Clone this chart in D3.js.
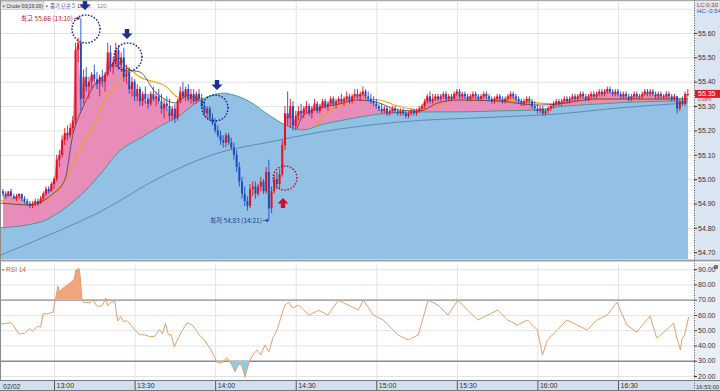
<!DOCTYPE html>
<html><head><meta charset="utf-8">
<script src="https://cdn.jsdelivr.net/npm/d3@7"></script>
<style>body{margin:0;background:#fff}svg{display:block;font-family:"Liberation Sans",Arial,sans-serif}</style>
</head><body><svg id="c" width="720" height="391"></svg>
<script>
// ---- DATA ----
const startLabel = "12:40";           // minute 0 of the x domain
// 1-minute candles [open, high, low, close], first candle at minute 1
const candles = [
[54.95,54.96,54.93,54.94],[54.94,54.95,54.92,54.93],[54.93,54.95,54.93,54.95],[54.95,54.96,54.93,54.93],[54.93,54.94,54.92,54.92],
[54.92,54.94,54.91,54.93],[54.93,54.94,54.92,54.94],[54.94,54.94,54.91,54.92],[54.92,54.93,54.90,54.91],[54.91,54.92,54.89,54.90],
[54.90,54.91,54.88,54.89],[54.89,54.91,54.88,54.90],[54.90,54.92,54.89,54.91],[54.91,54.92,54.89,54.90],[54.90,54.93,54.90,54.92],
[54.92,54.95,54.91,54.94],[54.94,54.97,54.93,54.96],[54.96,54.97,54.94,54.95],[54.95,54.99,54.95,54.98],[54.98,55.01,54.96,55.00],
[55.00,55.10,54.99,55.08],[55.08,55.12,55.05,55.10],[55.10,55.18,55.09,55.16],[55.16,55.21,55.14,55.19],[55.19,55.22,55.16,55.18],
[55.18,55.23,55.17,55.21],[55.21,55.26,55.19,55.24],[55.24,55.56,55.22,55.53],[55.53,55.58,55.48,55.56],[55.56,55.66,55.28,55.33],
[55.33,55.45,55.31,55.42],[55.42,55.46,55.36,55.38],[55.38,55.42,55.33,55.40],[55.40,55.44,55.37,55.43],[55.43,55.47,55.40,55.41],
[55.41,55.44,55.37,55.39],[55.39,55.43,55.34,55.42],[55.42,55.45,55.38,55.40],[55.40,55.44,55.36,55.43],[55.43,55.56,55.42,55.52],
[55.52,55.55,55.44,55.46],[55.46,55.50,55.43,55.48],[55.48,55.56,55.46,55.53],[55.53,55.55,55.45,55.47],[55.47,55.52,55.44,55.50],
[55.50,55.54,55.40,55.42],[55.42,55.47,55.39,55.44],[55.44,55.46,55.35,55.37],[55.37,55.42,55.34,55.40],[55.40,55.41,55.32,55.34],
[55.34,55.39,55.32,55.37],[55.37,55.38,55.30,55.32],[55.32,55.36,55.30,55.35],[55.35,55.38,55.31,55.33],[55.33,55.35,55.29,55.31],
[55.31,55.36,55.30,55.35],[55.35,55.38,55.32,55.33],[55.33,55.36,55.30,55.34],[55.34,55.37,55.31,55.32],[55.32,55.35,55.27,55.29],
[55.29,55.33,55.25,55.31],[55.31,55.34,55.28,55.30],[55.30,55.33,55.24,55.26],[55.26,55.30,55.24,55.29],[55.29,55.31,55.23,55.25],
[55.25,55.33,55.24,55.32],[55.32,55.38,55.31,55.36],[55.36,55.40,55.33,55.34],[55.34,55.38,55.32,55.37],[55.37,55.39,55.32,55.33],
[55.33,55.37,55.31,55.35],[55.35,55.37,55.31,55.32],[55.32,55.36,55.31,55.35],[55.35,55.37,55.32,55.33],[55.33,55.35,55.29,55.30],
[55.30,55.32,55.26,55.27],[55.27,55.30,55.25,55.29],[55.29,55.30,55.24,55.25],[55.25,55.27,55.22,55.23],[55.23,55.25,55.19,55.20],
[55.20,55.22,55.17,55.18],[55.18,55.20,55.14,55.16],[55.16,55.18,55.13,55.15],[55.15,55.19,55.13,55.18],[55.18,55.19,55.14,55.15],
[55.15,55.17,55.12,55.13],[55.13,55.15,55.08,55.10],[55.10,55.12,55.03,55.05],[55.05,55.07,54.97,54.99],[54.99,55.01,54.92,54.94],
[54.94,54.97,54.89,54.91],[54.91,54.93,54.87,54.89],[54.89,54.98,54.88,54.96],[54.96,54.99,54.93,54.97],[54.97,54.99,54.92,54.94],
[54.94,54.98,54.93,54.97],[54.97,55.01,54.95,54.99],[54.99,55.00,54.94,54.95],[54.95,55.05,54.94,55.03],[55.03,55.08,54.83,54.88],
[54.88,54.97,54.86,54.95],[54.95,55.02,54.94,55.00],[55.00,55.03,54.96,54.98],[54.98,55.04,54.96,55.02],[55.02,55.16,55.01,55.14],
[55.14,55.30,55.12,55.27],[55.27,55.36,55.22,55.25],[55.25,55.33,55.21,55.30],[55.30,55.32,55.20,55.22],[55.22,55.28,55.20,55.26],
[55.26,55.30,55.24,55.28],[55.28,55.31,55.25,55.27],[55.27,55.30,55.25,55.29],[55.29,55.32,55.27,55.30],[55.30,55.31,55.26,55.27],
[55.27,55.30,55.25,55.29],[55.29,55.33,55.28,55.31],[55.31,55.32,55.27,55.28],[55.28,55.31,55.27,55.30],[55.30,55.33,55.29,55.32],
[55.32,55.33,55.29,55.30],[55.30,55.32,55.28,55.31],[55.31,55.34,55.30,55.33],[55.33,55.34,55.30,55.31],[55.31,55.33,55.29,55.32],
[55.32,55.34,55.31,55.33],[55.33,55.35,55.31,55.32],[55.32,55.34,55.30,55.33],[55.33,55.36,55.32,55.34],[55.34,55.35,55.31,55.32],
[55.32,55.35,55.31,55.34],[55.34,55.37,55.33,55.35],[55.35,55.37,55.33,55.34],[55.34,55.36,55.32,55.35],[55.35,55.38,55.34,55.36],
[55.36,55.37,55.33,55.34],[55.34,55.36,55.32,55.33],[55.33,55.35,55.31,55.32],[55.32,55.34,55.30,55.31],[55.31,55.33,55.29,55.30],
[55.30,55.31,55.28,55.29],[55.29,55.31,55.27,55.28],[55.28,55.30,55.27,55.29],[55.29,55.30,55.26,55.27],[55.27,55.29,55.26,55.28],
[55.28,55.30,55.27,55.29],[55.29,55.30,55.27,55.28],[55.28,55.29,55.26,55.27],[55.27,55.29,55.26,55.28],[55.28,55.29,55.26,55.27],
[55.27,55.28,55.25,55.26],[55.26,55.28,55.25,55.27],[55.27,55.29,55.26,55.28],[55.28,55.29,55.26,55.27],[55.27,55.29,55.26,55.28],
[55.28,55.30,55.27,55.29],[55.29,55.31,55.28,55.30],[55.30,55.33,55.29,55.32],[55.32,55.35,55.31,55.34],[55.34,55.36,55.31,55.32],
[55.32,55.35,55.31,55.33],[55.33,55.35,55.32,55.34],[55.34,55.35,55.32,55.33],[55.33,55.35,55.32,55.34],[55.34,55.36,55.33,55.35],
[55.35,55.36,55.32,55.33],[55.33,55.35,55.32,55.34],[55.34,55.35,55.32,55.33],[55.33,55.36,55.33,55.35],[55.35,55.37,55.34,55.36],
[55.36,55.37,55.33,55.34],[55.34,55.36,55.33,55.35],[55.35,55.36,55.33,55.34],[55.34,55.35,55.32,55.33],[55.33,55.35,55.32,55.34],
[55.34,55.36,55.33,55.35],[55.35,55.36,55.33,55.34],[55.34,55.35,55.32,55.33],[55.33,55.35,55.32,55.34],[55.34,55.36,55.33,55.35],
[55.35,55.36,55.33,55.34],[55.34,55.35,55.32,55.33],[55.33,55.34,55.31,55.32],[55.32,55.34,55.31,55.33],[55.33,55.35,55.32,55.34],
[55.34,55.35,55.32,55.33],[55.33,55.34,55.31,55.32],[55.32,55.34,55.31,55.33],[55.33,55.35,55.32,55.34],[55.34,55.36,55.33,55.35],
[55.35,55.36,55.33,55.34],[55.34,55.35,55.32,55.33],[55.33,55.34,55.31,55.32],[55.32,55.33,55.30,55.31],[55.31,55.33,55.30,55.32],
[55.32,55.34,55.31,55.33],[55.33,55.34,55.31,55.32],[55.32,55.33,55.29,55.30],[55.30,55.32,55.28,55.29],[55.29,55.31,55.27,55.28],
[55.28,55.30,55.27,55.29],[55.29,55.30,55.26,55.27],[55.27,55.29,55.26,55.28],[55.28,55.30,55.27,55.29],[55.29,55.31,55.28,55.30],
[55.30,55.32,55.29,55.31],[55.31,55.33,55.30,55.32],[55.32,55.33,55.30,55.31],[55.31,55.33,55.30,55.32],[55.32,55.34,55.31,55.33],
[55.33,55.34,55.31,55.32],[55.32,55.34,55.31,55.33],[55.33,55.35,55.32,55.34],[55.34,55.35,55.32,55.33],[55.33,55.35,55.32,55.34],
[55.34,55.36,55.33,55.35],[55.35,55.36,55.33,55.34],[55.34,55.35,55.32,55.33],[55.33,55.35,55.32,55.34],[55.34,55.36,55.33,55.35],
[55.35,55.36,55.33,55.34],[55.34,55.36,55.33,55.35],[55.35,55.37,55.34,55.36],[55.36,55.37,55.34,55.35],[55.35,55.37,55.34,55.36],
[55.36,55.38,55.35,55.37],[55.37,55.38,55.35,55.36],[55.36,55.37,55.34,55.35],[55.35,55.37,55.34,55.36],[55.36,55.37,55.34,55.35],
[55.35,55.36,55.33,55.34],[55.34,55.36,55.33,55.35],[55.35,55.36,55.33,55.34],[55.34,55.35,55.32,55.33],[55.33,55.35,55.32,55.34],
[55.34,55.36,55.33,55.35],[55.35,55.36,55.33,55.34],[55.34,55.35,55.33,55.34],[55.34,55.36,55.33,55.35],[55.35,55.37,55.34,55.36],
[55.36,55.37,55.34,55.35],[55.35,55.37,55.34,55.36],[55.36,55.37,55.34,55.35],[55.35,55.36,55.33,55.34],[55.34,55.36,55.33,55.35],
[55.35,55.36,55.33,55.34],[55.34,55.35,55.33,55.34],[55.34,55.36,55.33,55.35],[55.35,55.36,55.33,55.34],[55.34,55.35,55.32,55.33],
[55.33,55.35,55.32,55.34],[55.34,55.34,55.27,55.29],[55.29,55.33,55.28,55.32],[55.32,55.34,55.30,55.31],[55.31,55.36,55.30,55.35],
[55.35,55.37,55.34,55.35]
];
// moving averages: [minute, price]
const ma10 = [[0,54.902],[11,54.894],[19,54.935],[24,54.996],[27,55.181],[31,55.30],[35,55.386],[39,55.428],[44,55.497],[48,55.448],[52,55.44],[58,55.354],[60,55.337],[65,55.313],[70,55.345],[74,55.325],[80,55.276],[85,55.202],[93,55.017],[100,54.935],[106,55.037],[109,55.16],[113,55.263],[119,55.292],[126,55.308],[133,55.325],[141,55.313],[148,55.284],[156,55.28],[163,55.313],[170,55.325],[185,55.321],[200,55.304],[207,55.308],[222,55.329],[237,55.329],[256,55.329]];
const ma20 = [[0,54.914],[10,54.894],[15,54.902],[20,54.943],[24,54.996],[28,55.078],[31,55.152],[34,55.201],[39,55.325],[43,55.386],[45,55.415],[47,55.456],[52,55.419],[62,55.378],[66,55.337],[69,55.333],[74,55.333],[79,55.313],[83,55.276],[89,55.222],[94,55.12],[100,55.037],[104,54.996],[107,55.017],[111,55.078],[115,55.181],[119,55.243],[124,55.292],[130,55.317],[135,55.329],[141,55.325],[148,55.30],[156,55.284],[161,55.30],[167,55.317],[185,55.325],[200,55.313],[207,55.308],[215,55.325],[230,55.333],[244,55.329],[256,55.329]];
const ma60 = [[0,54.80],[15,54.824],[22,54.865],[30,54.935],[37,55.017],[44,55.111],[52,55.168],[59,55.214],[67,55.263],[74,55.321],[79,55.345],[83,55.353],[87,55.345],[93,55.317],[100,55.263],[107,55.218],[113,55.202],[119,55.222],[130,55.247],[141,55.267],[156,55.276],[170,55.276],[185,55.28],[200,55.284],[207,55.296],[222,55.308],[237,55.317],[256,55.321]];
const ma120 = [[0,54.688],[18,54.77],[37,54.865],[59,55.004],[81,55.107],[100,55.152],[119,55.193],[148,55.234],[185,55.255],[207,55.267],[230,55.292],[256,55.313]];
// RSI(14): [minute, value]
const rsi = [[0,54],[4,55],[5,53],[6,50],[7,47.5],[9,48],[10,49.5],[11,51],[12,49.5],[14,52.7],[15,52],[16,61],[17,60.5],[18.5,61.3],[19.6,61.6],[20.7,72],[21.5,79],[22,75],[23,77],[24.4,79],[26,81],[27.4,83],[28.2,89.5],[29.3,90.5],[29.7,86],[30.4,70],[31.1,68],[32.2,68.5],[33.3,67.8],[34.4,70],[35.9,66],[37,65.5],[38.1,66.5],[39.3,71],[40,66],[41.1,68],[42.6,69],[43.7,56],[44.8,59],[45.9,55.5],[47,56.5],[48.1,54.5],[50,50.5],[51.9,47],[53.7,47],[55.6,45.8],[57.4,45.8],[59.3,50.5],[60.4,47.5],[61.5,54.5],[62.6,47],[63.7,47],[64.8,39],[65.9,43.6],[67.8,50],[69.6,55],[71.5,53.4],[73,50],[74,47],
[76,43.6],[78.5,37],[80.7,29],[82.6,28.6],[84.4,32],[86.3,27],[87.4,22.7],[88.9,28],[90,26.6],[91.1,19.4],[92.6,28.6],[94,33.8],[95.6,37],[97,33.8],[98.5,40.3],[100,35.8],[101.5,45],[103,50],[104.4,58],[106,66.5],[107.4,68.4],[108.9,64.5],[111,66.5],[115,60],[118.5,63],[122,60],[125.9,69.7],[129.6,66.5],[133.3,63.2],[135.2,69.7],[138.9,60],[142.6,56.7],[146.3,50.1],[148.1,46.9],[151.9,43.6],[155.6,46.9],[159.3,69.7],[163,66.5],[166.7,60],[170.4,69.7],[174,63.2],[177.8,56.7],[181.5,60],[185.2,63.2],[188.9,56.7],[192.6,53.4],[196.3,56.7],[200,50.1],[201.9,33.8],[203.7,43.6],[207.4,50.1],[211,56.7],[214.8,53.4],[218.5,50.1],[222.2,56.7],[226,60],[229.6,68.4],[233.3,53.4],[237,48.8],[241.9,59.3],[244.4,44.9],[248.1,50.1],[250.7,54.7],[251.9,44.9],[253.3,37],[253.7,43.6],[254.8,46.9],[256.3,58.6]];
const priceTicks = [54.70,54.80,54.90,55.00,55.10,55.20,55.30,55.40,55.50,55.60];
const priceGrid = [54.70,54.80,54.90,55.00,55.10,55.20,55.30,55.40,55.50,55.60,55.70];
const rsiTicks = [20,30,40,50,60,70,80,90];
const timeTicks = ["13:00","13:30","14:00","14:30","15:00","15:30","16:00","16:30"];
const lastPrice = 55.35, lastChange = "0.08%";
const highNote = {price:55.66, minute:30, text:"최고 55.66 (13:10)"};
const lowNote = {price:54.83, minute:100, text:"최저 54.83 (14:21)"};

// ---- LAYOUT ----
const svg = d3.select("#c");
const PR = 694, MT = 2, MB = 259, RT = 263, RB = 379, AX = 380;
const toMin = s => { const [h,m] = s.split(":").map(Number); return h*60+m; };
const t0 = toMin(startLabel);
const x = d3.scaleLinear().domain([0,258.3]).range([0.3,PR]);
const y = d3.scaleLinear().domain([54.70,55.60]).range([252.2,33]);
const yr = d3.scaleLinear().domain([20,90]).range([376,269.2]);
const tickMins = timeTicks.map(s => toMin(s)-t0);

const defs = svg.append("defs");
defs.append("clipPath").attr("id","cm").append("rect").attr("x",1).attr("y",MT).attr("width",PR-1).attr("height",MB-MT);
defs.append("clipPath").attr("id","cr").append("rect").attr("x",1).attr("y",RT).attr("width",PR-1).attr("height",RB-RT);
defs.append("clipPath").attr("id","cHi").append("rect").attr("x",1).attr("y",RT).attr("width",PR-1).attr("height",yr(70)-RT);
defs.append("clipPath").attr("id","cLo").append("rect").attr("x",1).attr("y",yr(30)).attr("width",PR-1).attr("height",RB-yr(30));

// backgrounds
svg.append("rect").attr("x",0).attr("y",0).attr("width",720).attr("height",391).attr("fill","#fff");
svg.append("rect").attr("x",PR).attr("y",MT).attr("width",720-PR).attr("height",MB-MT).attr("fill","#dbe5f1");
svg.append("rect").attr("x",PR).attr("y",RT).attr("width",720-PR).attr("height",RB-RT).attr("fill","#e9eff7");
svg.append("rect").attr("x",0).attr("y",AX).attr("width",720).attr("height",391-AX).attr("fill","#d5dfeb");

// grids
const gMain = svg.append("g");
gMain.append("g").call(d3.axisLeft(y).tickValues(priceGrid).tickSize(-PR).tickFormat(""))
  .call(g=>g.select(".domain").remove()).selectAll("line").attr("stroke","#e3e3e3");
gMain.append("g").attr("transform",`translate(0,${MB})`).call(d3.axisBottom(x).tickValues(tickMins).tickSize(-(MB-MT)).tickFormat(""))
  .call(g=>g.select(".domain").remove()).selectAll("line").attr("stroke","#e3e3e3");

const gR = svg.append("g");
gR.append("g").call(d3.axisLeft(yr).tickValues([20,40,50,60,80,90]).tickSize(-PR).tickFormat(""))
  .call(g=>g.select(".domain").remove()).selectAll("line").attr("stroke","#e3e3e3");
gR.append("g").attr("transform",`translate(0,${RB})`).call(d3.axisBottom(x).tickValues(tickMins).tickSize(-(RB-RT)).tickFormat(""))
  .call(g=>g.select(".domain").remove()).selectAll("line").attr("stroke","#e3e3e3");
gR.append("g").call(d3.axisLeft(yr).tickValues([30,70]).tickSize(-PR).tickFormat(""))
  .call(g=>g.select(".domain").remove()).selectAll("line").attr("stroke","#8c8c8c").attr("stroke-width",1.3);

// ---- MAIN PANEL ----
const pm = svg.append("g").attr("clip-path","url(#cm)");
const closeSeries = candles.map((d,i)=>[i+1,d[3]]);
pm.append("path").datum(closeSeries)
  .attr("d", d3.area().x(d=>x(d[0])).y0(MB).y1(d=>y(d[1])))
  .attr("fill","#e88cba");
const lineP = d3.line().x(d=>x(d[0])).y(d=>y(d[1])).curve(d3.curveMonotoneX);
pm.append("path").datum(ma20).attr("d",lineP).attr("fill","none").attr("stroke","#f0a500").attr("stroke-width",1.1);
pm.append("path").datum(ma10).attr("d",lineP).attr("fill","none").attr("stroke","#4b3565").attr("stroke-width",0.8);
pm.append("path").datum(ma60)
  .attr("d", d3.area().x(d=>x(d[0])).y0(MB).y1(d=>y(d[1])).curve(d3.curveMonotoneX))
  .attr("fill","#93c1e6");
pm.append("path").datum(ma60).attr("d",lineP).attr("fill","none").attr("stroke","#3f9f93").attr("stroke-width",1);
pm.append("path").datum(ma120).attr("d",lineP).attr("fill","none").attr("stroke","#4f7fa3").attr("stroke-width",0.8);

// candles
const cg = pm.append("g");
candles.forEach((d,i)=>{
  const [o,h,l,c] = d, cx = x(i+1), col = c>=o ? "#e3121c" : "#1d4fbf";
  cg.append("line").attr("x1",cx).attr("x2",cx).attr("y1",y(h)).attr("y2",y(l)).attr("stroke",col).attr("stroke-width",0.9);
  const top = y(Math.max(o,c)), bot = y(Math.min(o,c));
  cg.append("rect").attr("x",cx-1).attr("y",top).attr("width",2).attr("height",Math.max(1,bot-top)).attr("fill",col);
});

// annotations
const ann = svg.append("g").style("font-family","'Noto Sans CJK KR',sans-serif").style("font-size","6.5px");
ann.append("text").attr("x",x(highNote.minute)-8).attr("y",y(highNote.price)+2.5).attr("text-anchor","end").attr("fill","#b5122a").text(highNote.text);
ann.append("path").attr("d",`M${x(highNote.minute)-7},${y(highNote.price)}h5`).attr("stroke","#b5122a").attr("stroke-width",0.8);
ann.append("path").attr("d",`M${x(highNote.minute)-1},${y(highNote.price)}l-2.5,-2v4z`).attr("fill","#b5122a");
ann.append("text").attr("x",x(lowNote.minute)-7).attr("y",y(lowNote.price)+2.5).attr("text-anchor","end").attr("fill","#1f3b93").text(lowNote.text);
ann.append("path").attr("d",`M${x(lowNote.minute)-6},${y(lowNote.price)}h5`).attr("stroke","#1f3b93").attr("stroke-width",0.8);
ann.append("path").attr("d",`M${x(lowNote.minute)},${y(lowNote.price)}l-2.5,-2v4z`).attr("fill","#1f3b93");

const circles = [[86,29,14,"#1c2c86"],[128,57,14,"#1c2c86"],[215,108,13,"#1c2c86"],[285,178,12,"#c8102a"]];
circles.forEach(([cx,cy,r,c])=>svg.append("circle").attr("cx",cx).attr("cy",cy).attr("r",r).attr("fill","none")
  .attr("stroke",c).attr("stroke-width",1.7).attr("stroke-dasharray","0.1,3").attr("stroke-linecap","round"));

// price axis
const pa = svg.append("g").attr("transform",`translate(${PR},0)`)
  .call(d3.axisRight(y).tickValues(priceTicks).tickSize(3).tickFormat(d3.format(".2f")));
pa.select(".domain").remove();
pa.selectAll("line").attr("stroke","#333");
pa.selectAll("text").attr("font-size","7px").attr("fill","#333").attr("x",4);
svg.append("rect").attr("x",PR+1).attr("y",y(lastPrice)-4).attr("width",720-PR).attr("height",8).attr("fill","#e01b24");
svg.append("text").attr("x",PR+4).attr("y",y(lastPrice)+2.5).attr("font-size","7px").attr("fill","#fff").text(lastPrice.toFixed(2));
svg.append("text").attr("x",PR+4).attr("y",y(lastPrice)+7.6).attr("font-size","4.8px").attr("fill","#e01b24").text(lastChange);
svg.append("text").attr("x",PR+3).attr("y",7).attr("font-size","6px").attr("fill","#d0202a").text("LC:0.30");
svg.append("text").attr("x",PR+3).attr("y",13).attr("font-size","6px").attr("fill","#2050b0").text("HC:-0.54");

// header legend
const hd = svg.append("g").style("font-size","5.6px");
hd.append("rect").attr("x",2).attr("y",1.5).attr("width",42).attr("height",8).attr("fill","#e6e6e6").attr("stroke","#b8b8b8").attr("stroke-width",0.5);
hd.append("text").attr("x",3).attr("y",8).attr("textLength",40).attr("lengthAdjust","spacingAndGlyphs").attr("fill","#333").text("▪ Crude 00(19.00)");
hd.append("text").attr("x",46).attr("y",8).attr("fill","#333").text("▪");
hd.append("text").attr("x",50).attr("y",8).attr("textLength",25).attr("lengthAdjust","spacingAndGlyphs").attr("fill","#3050c0")
  .style("font-family","'Noto Sans CJK KR',sans-serif").text("종가 단순 5");
[["10",77,"#6a2a5a"],["20",85,"#e09a00"],["120",97,"#4f9f4f"]].forEach(([t,xx,c])=>hd.append("text").attr("x",xx).attr("y",8).attr("fill",c).text(t));

// arrows (drawn over the header like the reference)
const downArrow = (cx,ty)=>`M${cx-2.2},${ty}h4.4v4.5h3.3l-5.5,5.5l-5.5,-5.5h3.3z`;
[[85,0],[127,29],[217,80]].forEach(([cx,ty])=>svg.append("path").attr("d",downArrow(cx,ty)).attr("fill","#1c2f8f"));
svg.append("path").attr("d",`M${283-2.2},208h4.4v-4.5h3.3l-5.5,-5.5l-5.5,5.5h3.3z`).attr("fill","#d0102a");

// ---- RSI PANEL ----
const pr = svg.append("g");
pr.append("path").datum(rsi).attr("clip-path","url(#cHi)").attr("d",d3.area().x(d=>x(d[0])).y0(yr(70)).y1(d=>yr(d[1]))).attr("fill","#f2a47c");
pr.append("path").datum(rsi).attr("clip-path","url(#cLo)").attr("d",d3.area().x(d=>x(d[0])).y0(yr(30)).y1(d=>yr(d[1]))).attr("fill","#8fcbe4");
pr.append("path").datum(rsi).attr("clip-path","url(#cr)").attr("d",d3.line().x(d=>x(d[0])).y(d=>yr(d[1])))
  .attr("fill","none").attr("stroke","#e0a06c").attr("stroke-width",1);
svg.append("text").attr("x",2).attr("y",272).attr("font-size","6.5px").attr("fill","#c06a38").text("▪ RSI 14");
svg.append("rect").attr("x",714).attr("y",265).attr("width",4).attr("height",4).attr("fill","#777");

const ra = svg.append("g").attr("transform",`translate(${PR},0)`)
  .call(d3.axisRight(yr).tickValues(rsiTicks).tickSize(3).tickFormat(d3.format(".2f")));
ra.select(".domain").remove();
ra.selectAll("line").attr("stroke","#333");
ra.selectAll("text").attr("font-size","7px").attr("fill","#333").attr("x",4);

// ---- TIME AXIS ----
const ta = svg.append("g").attr("transform",`translate(0,${AX})`)
  .call(d3.axisBottom(x).tickValues(tickMins).tickSize(11).tickFormat((d,i)=>timeTicks[i]));
ta.select(".domain").remove();
ta.selectAll("line").attr("stroke","#555");
ta.selectAll("text").attr("font-size","7px").attr("fill","#333").attr("text-anchor","start").attr("x",2).attr("y",3).attr("dy","0.71em");
svg.append("text").attr("x",3).attr("y",389).attr("font-size","7px").attr("fill","#333").text("02/02");
svg.append("text").attr("x",PR+2).attr("y",389).attr("font-size","6px").attr("textLength",23).attr("lengthAdjust","spacingAndGlyphs").attr("fill","#333").text("16:53:00");

// frame lines
const fr = svg.append("g").attr("stroke","#8a8a8a").attr("fill","none");
fr.append("line").attr("x1",0).attr("x2",720).attr("y1",0.5).attr("y2",0.5).attr("stroke","#aaa").attr("stroke-width",1.5);
fr.append("line").attr("x1",0.5).attr("x2",0.5).attr("y1",0).attr("y2",AX);
fr.append("line").attr("x1",0).attr("x2",720).attr("y1",MB+1.5).attr("y2",MB+1.5).attr("stroke-width",2).attr("stroke","#a0a0a0");
fr.append("line").attr("x1",0).attr("x2",720).attr("y1",AX+0.5).attr("y2",AX+0.5).attr("stroke","#6e7a88");
fr.append("line").attr("x1",0).attr("x2",720).attr("y1",390.5).attr("y2",390.5).attr("stroke","#6e7a88");
fr.append("line").attr("x1",PR+0.5).attr("x2",PR+0.5).attr("y1",0).attr("y2",391).attr("stroke","#555").attr("stroke-dasharray","1,1.5");
</script></body></html>
